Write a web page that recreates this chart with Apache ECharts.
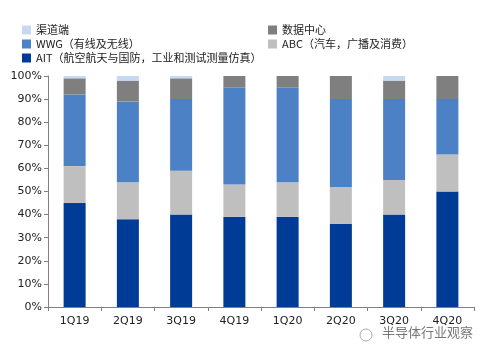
<!DOCTYPE html>
<html><head><meta charset="utf-8">
<script src="https://cdn.jsdelivr.net/npm/echarts@6/dist/echarts.min.js"></script>
<style>html,body{margin:0;padding:0;background:#fff}#c{width:481px;height:356px}</style>
</head><body><div id="c"></div>
<script>
var categories = ['1Q19','2Q19','3Q19','4Q19','1Q20','2Q20','3Q20','4Q20'];
var ait = [45, 38, 40, 39, 39, 36, 40, 50];
var abc = [16, 16, 19, 14, 15, 16, 15, 16];
var wwg = [31, 35, 31, 42, 41, 38, 35, 24];
var dc  = [7, 9, 9, 5, 5, 10, 8, 10];
var channel = [1, 2, 1, 0, 0, 0, 2, 0];
var names = ['AIT（航空航天与国防，工业和测试测量仿真）','ABC（汽车，广播及消费）','WWG（有线及无线）','数据中心','渠道端'];
var colors = ['#003C96','#BFBFBF','#4D81C5','#7F7F7F','#C6D9F1'];
var yTicks = ['0%','10%','20%','30%','40%','50%','60%','70%','80%','90%','100%'];

var font = '"Noto Sans CJK SC", "Liberation Sans", sans-serif';
var chart = echarts.init(document.getElementById('c'));
var datas = [ait, abc, wwg, dc, channel];
var series = datas.map(function(d, i){
  return {name: names[i], type: 'bar', stack: 'all', data: d, barWidth: 22,
    itemStyle: {color: colors[i]}, emphasis: {disabled: true}};
});
var legText = {fontSize: 11, color: '#222', fontFamily: font, lineHeight: 14};
chart.setOption({
  animation: false,
  textStyle: {fontFamily: font},
  legend: [
    {orient: 'vertical', left: 17, top: 18, itemWidth: 9, itemHeight: 9, itemGap: 0,
     icon: 'rect', textStyle: legText, data: [names[4], names[2], names[0]]},
    {orient: 'vertical', left: 263, top: 18, itemWidth: 9, itemHeight: 9, itemGap: 0,
     icon: 'rect', textStyle: legText, data: [names[3], names[1]]}
  ],
  grid: {left: 48, right: 7, top: 76, bottom: 49, containLabel: false},
  xAxis: {type: 'category', data: categories,
    axisLine: {lineStyle: {color: '#808080'}},
    axisTick: {show: true, length: 4, lineStyle: {color: '#808080'}},
    axisLabel: {color: '#222', fontSize: 11, margin: 9, fontFamily: '"DejaVu Sans", sans-serif'}},
  yAxis: {type: 'value', min: 0, max: 100, interval: 10,
    axisLine: {show: true, lineStyle: {color: '#808080'}},
    axisTick: {show: true, length: 4, lineStyle: {color: '#808080'}},
    splitLine: {show: false},
    axisLabel: {color: '#222', fontSize: 11, margin: 6, fontFamily: '"DejaVu Sans", sans-serif',
      formatter: function(v){ return yTicks[Math.round(v/10)]; }}},
  graphic: [
    {type: 'text', left: 382, top: 326, style: {text: '半导体行业观察', fill: '#777', font: '13px ' + font}},
    {type: 'circle', shape: {cx: 366, cy: 335, r: 6}, style: {fill: 'none', stroke: '#aaa', lineWidth: 1}}
  ],
  series: series
});
</script></body></html>
